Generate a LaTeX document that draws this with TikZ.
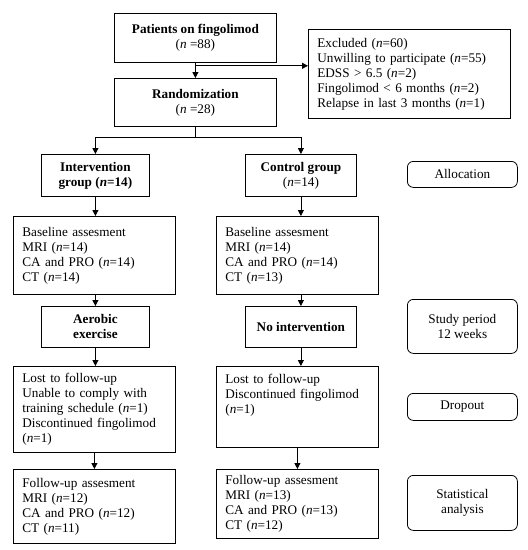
\documentclass[tikz,border=0pt]{standalone}
\usepackage{fontspec}
\setmainfont{Liberation Serif}
\usetikzlibrary{arrows.meta,calc}
\tikzset{
  basebox/.style={draw, line width=0.8pt, inner sep=0pt, font=\fontsize{13.2}{15}\selectfont},
  cbox/.style={basebox, align=center, anchor=north west},
  lbox/.style={basebox, align=left, anchor=north west, inner xsep=9pt},
  rbox/.style={basebox, rounded corners=6pt, align=center, anchor=north west},
  arr/.style={line width=0.8pt, -{Triangle[length=6pt,width=6pt]}},
  ln/.style={line width=0.8pt},
}
\begin{document}
\begin{tikzpicture}[x=1pt,y=-1pt]
\useasboundingbox (0,0) rectangle (528,550);
% top
\node[cbox, minimum width=162pt, minimum height=49pt] (pat) at (114,13) {\textbf{Patients on fingolimod}\\(\textit{n} =88)};
\node[lbox, text width=184pt, minimum width=202pt, minimum height=89pt] (excl) at (308,29) {Excluded (\textit{n}=60)\\Unwilling to participate (\textit{n}=55)\\EDSS > 6.5 (\textit{n}=2)\\Fingolimod < 6 months (\textit{n}=2)\\Relapse in last 3 months (\textit{n}=1)};
\node[cbox, minimum width=162pt, minimum height=48pt] (rand) at (114,78) {\textbf{Randomization}\\(\textit{n} =28)};
% groups
\node[cbox, minimum width=108pt, minimum height=42pt] (int) at (41,154) {\textbf{Intervention}\\\textbf{group (\textit{n}=14)}};
\node[cbox, minimum width=111pt, minimum height=42pt] (ctrl) at (245,154) {\textbf{Control group}\\(\textit{n}=14)};
% baseline
\node[lbox, text width=144pt, minimum width=162pt, minimum height=78pt] (baseL) at (13,216) {Baseline assesment\\MRI (\textit{n}=14)\\CA and PRO (\textit{n}=14)\\CT (\textit{n}=14)};
\node[lbox, text width=144pt, minimum width=162pt, minimum height=78pt] (baseR) at (216,216) {Baseline assesment\\MRI (\textit{n}=14)\\CA and PRO (\textit{n}=14)\\CT (\textit{n}=13)};
% study
\node[cbox, minimum width=108pt, minimum height=41pt] (aer) at (41,306) {\textbf{Aerobic}\\\textbf{exercise}};
\node[cbox, minimum width=111pt, minimum height=41pt] (noint) at (245,306) {\textbf{No intervention}};
% lost
\node[lbox, text width=144pt, minimum width=162pt, minimum height=86pt] (lostL) at (13,366) {Lost to follow-up\\Unable to comply with\\training schedule (\textit{n}=1)\\Discontinued fingolimod\\(\textit{n}=1)};
\node[lbox, text width=144pt, minimum width=162pt, minimum height=81pt, text height=17.5pt, text depth=63.5pt] (lostR) at (216,366) {Lost to follow-up\\Discontinued fingolimod\\(\textit{n}=1)};
% follow-up
\node[lbox, text width=144pt, minimum width=162pt, minimum height=74pt] (fuL) at (13,469) {Follow-up assesment\\MRI (\textit{n}=12)\\CA and PRO (\textit{n}=12)\\CT (\textit{n}=11)};
\node[lbox, text width=144pt, minimum width=162pt, minimum height=69pt] (fuR) at (216,469) {Follow-up assesment\\MRI (\textit{n}=13)\\CA and PRO (\textit{n}=13)\\CT (\textit{n}=12)};
% phase labels
\node[rbox, minimum width=110pt, minimum height=26pt] (alloc) at (407,161) {Allocation};
\node[rbox, minimum width=110pt, minimum height=54pt] (study) at (407,299) {Study period\\12 weeks};
\node[rbox, minimum width=110pt, minimum height=27pt] (drop) at (407,393) {Dropout};
\node[rbox, minimum width=110pt, minimum height=55pt] (stat) at (407,475) {Statistical\\analysis};
% connectors
\draw[arr] (pat.south) -- (rand.north);
\coordinate (br) at ($(pat.south)+(0,3)$);
\draw[arr] (br) -- (br -| excl.west);
\coordinate (sp) at ($(rand.south)+(0,11)$);
\draw[ln] (rand.south) -- (sp);
\draw[arr] (sp) -| (int.north);
\draw[arr] (sp) -| (ctrl.north);
\draw[arr] (int.south) -- (int.south |- baseL.north);
\draw[arr] (ctrl.south) -- (ctrl.south |- baseR.north);
\draw[arr] (aer.north |- baseL.south) -- (aer.north);
\draw[arr] (noint.north |- baseR.south) -- (noint.north);
\draw[arr] (aer.south) -- (aer.south |- lostL.north);
\draw[arr] (noint.south) -- (noint.south |- lostR.north);
\draw[arr] (lostL.south) -- (fuL.north);
\draw[arr] (lostR.south) -- (fuR.north);
\end{tikzpicture}
\end{document}
